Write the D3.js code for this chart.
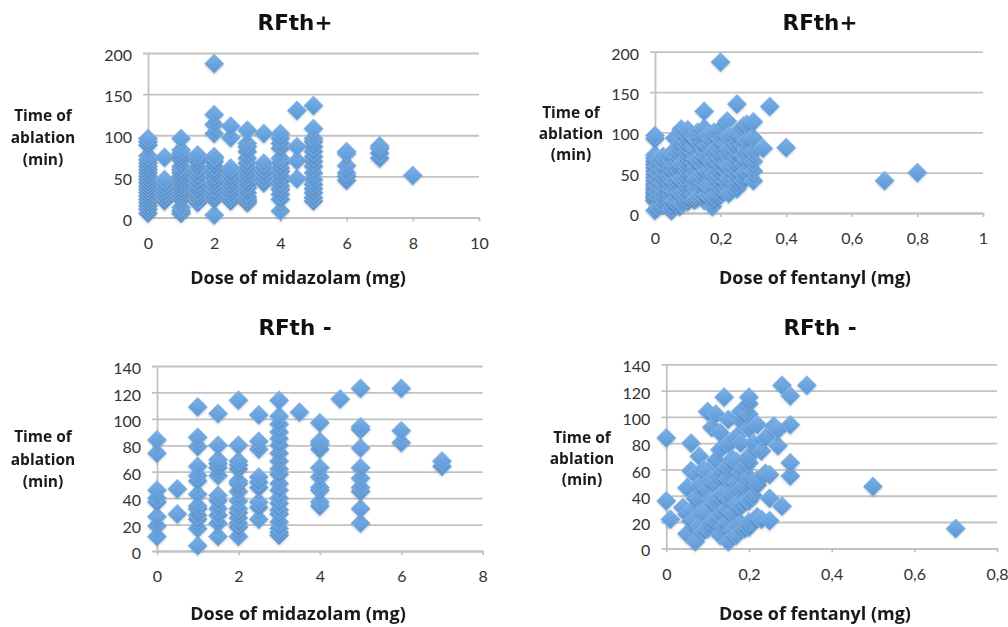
<!DOCTYPE html>
<html>
<head>
<meta charset="utf-8">
<script src="https://cdn.jsdelivr.net/npm/d3@7"></script>
<style>
	html, body { margin: 0; padding: 0; background: #fff; }
	svg { display: block; }
	.title { font-family: "DejaVu Sans", sans-serif; font-weight: bold; font-size: 21.5px; fill: #111; text-anchor: middle; }
	.label { font-family: "Open Sans", sans-serif; font-weight: bold; font-size: 15.5px; fill: #1a1a1a; text-anchor: middle; }
	.xlab { font-size: 18px; }
	.tick text { font-family: Lato, sans-serif; font-size: 16px; fill: #333; }
</style>
</head>
<body>
<script>
// midazolam, RFth+ : one list of times for every dose
var midPlusDoses = [0, 0.5, 1, 1.5, 2, 2.5, 3, 3.5, 4, 4.5, 5, 6, 7, 8];
var midPlusTimes = [
	[5, 10, 14, 18, 22, 26, 30, 34, 38, 42, 46, 50, 54, 58, 62, 66, 70, 75, 88, 92, 96],
	[20, 25, 30, 35, 40, 46, 73],
	[5, 8, 12, 22, 26, 30, 34, 38, 42, 46, 50, 54, 58, 62, 70, 74, 78, 82, 96],
	[18, 22, 28, 32, 38, 42, 48, 55, 60, 68, 72, 76],
	[3, 22, 26, 30, 36, 42, 48, 52, 58, 62, 68, 72, 74, 102, 113, 125, 187],
	[20, 24, 28, 34, 38, 44, 48, 54, 60, 97, 111],
	[18, 20, 22, 25, 30, 36, 40, 46, 50, 56, 60, 66, 72, 80, 86, 90, 106],
	[42, 48, 54, 60, 66, 102],
	[8, 22, 28, 34, 38, 44, 50, 56, 60, 66, 72, 84, 90, 96, 102],
	[47, 69, 86, 130],
	[20, 24, 30, 35, 40, 46, 54, 62, 68, 74, 80, 86, 92, 96, 108, 136],
	[45, 50, 54, 63, 78, 80],
	[72, 78, 84, 87],
	[51]
];

// fentanyl, RFth+
var fenPlusDoses = [0, 0.01, 0.025, 0.05, 0.06, 0.075, 0.08, 0.1, 0.12, 0.125, 0.13, 0.15, 0.16, 0.175, 0.18, 0.2, 0.22, 0.225, 0.25, 0.27, 0.28, 0.3, 0.33, 0.35, 0.4, 0.7, 0.8];
var fenPlusTimes = [
	[3, 15, 18, 20, 22, 25, 28, 30, 33, 36, 40, 44, 48, 52, 56, 60, 64, 68, 72, 92, 96],
	[8, 20, 26, 34, 42, 50, 58, 66],
	[10, 18, 24, 30, 38, 46, 54, 62, 70],
	[3, 6, 12, 18, 24, 30, 36, 42, 48, 56, 62, 66, 74],
	[16, 28, 40, 52, 60, 72, 93],
	[8, 14, 20, 26, 32, 38, 44, 52, 58, 64, 70, 76, 82],
	[12, 24, 42, 60, 88, 104],
	[14, 18, 22, 28, 34, 40, 46, 52, 58, 64, 70, 76, 82, 88, 96, 103],
	[16, 24, 36, 48, 62, 74, 84, 94],
	[18, 30, 42, 56, 68, 80, 92],
	[20, 44, 66, 90, 100],
	[16, 20, 26, 32, 38, 44, 50, 58, 66, 72, 80, 88, 94, 98, 105, 126],
	[22, 34, 52, 70, 84, 96],
	[8, 18, 24, 30, 42, 52, 62, 74, 86, 92],
	[20, 36, 48, 68, 78, 100],
	[22, 26, 32, 40, 46, 54, 60, 68, 76, 84, 92, 104, 187],
	[30, 38, 52, 62, 72, 86, 114],
	[24, 44, 58, 80, 96],
	[30, 36, 42, 50, 56, 64, 70, 78, 86, 95, 100, 135],
	[40, 48, 60, 72, 84, 95, 108],
	[52, 66, 78, 90, 110],
	[40, 52, 64, 76, 93, 113],
	[80],
	[132],
	[81],
	[40],
	[50]
];

// midazolam, RFth-
var midMinusDoses = [0, 0.5, 1, 1.5, 2, 2.5, 3, 3.5, 4, 4.5, 5, 6, 7];
var midMinusTimes = [
	[11, 19, 26, 37, 40, 46, 74, 84],
	[28, 47],
	[4, 17, 24, 27, 32, 34, 43, 53, 57, 64, 79, 86, 109],
	[11, 21, 27, 32, 38, 42, 57, 63, 66, 69, 80, 104],
	[11, 18, 21, 25, 29, 32, 38, 45, 51, 53, 62, 65, 68, 80, 114],
	[24, 33, 37, 48, 52, 56, 77, 83, 103],
	[12, 14, 17, 22, 28, 31, 36, 40, 46, 51, 58, 62, 68, 74, 80, 85, 90, 96, 102, 114],
	[105],
	[34, 37, 46, 48, 56, 63, 77, 81, 83, 97],
	[115],
	[21, 32, 45, 48, 55, 63, 78, 92, 94, 123],
	[82, 91, 123],
	[64, 68]
];

// fentanyl, RFth-
var fenMinusDoses = [0, 0.01, 0.04, 0.05, 0.06, 0.07, 0.08, 0.09, 0.1, 0.11, 0.12, 0.13, 0.14, 0.15, 0.16, 0.17, 0.18, 0.19, 0.2, 0.21, 0.22, 0.23, 0.24, 0.25, 0.26, 0.27, 0.28, 0.3, 0.34, 0.5, 0.7];
var fenMinusTimes = [
	[36, 84],
	[22],
	[31],
	[11, 26, 46],
	[21, 28, 59, 80],
	[5, 22, 38, 56],
	[17, 38, 48, 70],
	[13, 28, 60],
	[15, 27, 45, 58, 104],
	[20, 37, 52, 92],
	[21, 35, 50, 67, 102],
	[10, 25, 40, 56, 75, 88],
	[17, 28, 42, 60, 115],
	[5, 20, 30, 38, 53, 62, 79, 98],
	[14, 27, 42, 68],
	[10, 34, 50, 66, 85],
	[19, 32, 45, 58, 80, 97, 104],
	[15, 35, 48, 62],
	[16, 20, 36, 54, 65, 70, 91, 102, 110, 115],
	[40, 80],
	[24, 48, 52, 94],
	[22, 74],
	[57, 84],
	[21, 38, 56],
	[93],
	[78, 90],
	[32, 124],
	[55, 65, 94, 116],
	[124],
	[47],
	[15]
];

var xTicksMidPlus = [0, 2, 4, 6, 8, 10];
var xTicksMidMinus = [0, 2, 4, 6, 8];
var xTicksFenPlus = [0, 0.2, 0.4, 0.6, 0.8, 1];
var xTicksFenMinus = [0, 0.2, 0.4, 0.6, 0.8];
var yTicksPlus = [0, 50, 100, 150, 200];
var yTicksMinus = [0, 20, 40, 60, 80, 100, 120, 140];

var yLabelLines = ["Time of", "ablation", "(min)"];

var svg = d3.select("body").append("svg")
	.attr("width", 1008)
	.attr("height", 627);

var defs = svg.append("defs");

var grad = defs.append("linearGradient")
	.attr("id", "markerFill")
	.attr("x1", 0).attr("y1", 0)
	.attr("x2", 1).attr("y2", 1);
grad.append("stop").attr("offset", "0%").attr("stop-color", "#7cb0e6");
grad.append("stop").attr("offset", "100%").attr("stop-color", "#5a98d8");

defs.append("filter")
	.attr("id", "soft")
	.append("feGaussianBlur")
	.attr("stdDeviation", 0.55);

defs.append("filter")
	.attr("id", "shade")
	.attr("x", "-50%").attr("y", "-50%")
	.attr("width", "200%").attr("height", "200%")
	.append("feGaussianBlur")
	.attr("stdDeviation", 1);

var diamond = d3.symbol().type(d3.symbolSquare).size(185)();

function drawPanel(p) {
	var x = d3.scaleLinear().domain([0, p.xTicks[p.xTicks.length - 1]]).range([p.left, p.right]);
	var y = d3.scaleLinear().domain([0, p.yTicks[p.yTicks.length - 1]]).range([p.bottom, p.top]);

	var points = [];
	p.doses.forEach(function (dose, i) {
		p.times[i].forEach(function (t) {
			points.push({ dose: dose, time: t });
		});
	});

	var g = svg.append("g");
	var chart = g.append("g").attr("filter", "url(#soft)");

	// gridlines, the y ticks stick out a little to the left
	chart.append("g")
		.attr("transform", "translate(" + p.left + ",0)")
		.call(d3.axisLeft(y).tickValues(p.yTicks).tickSizeInner(-(p.right - p.left)).tickSizeOuter(0).tickFormat(""))
		.call(function (a) {
			a.select(".domain").attr("stroke", "#c2c2c2").attr("stroke-width", 1.8);
			a.selectAll("line").attr("stroke", "#c2c2c2").attr("stroke-width", 1.8).attr("x1", -5).attr("x2", p.right - p.left);
		});

	chart.append("g")
		.attr("transform", "translate(0," + p.bottom + ")")
		.call(d3.axisBottom(x).tickValues(p.xTicks).tickSize(4).tickSizeOuter(0).tickFormat(""))
		.call(function (a) {
			a.select(".domain").attr("stroke", "#c2c2c2").attr("stroke-width", 1.8);
			a.selectAll("line").attr("stroke", "#c2c2c2").attr("stroke-width", 1.8);
		});

	var marks = chart.append("g");
	points.forEach(function (d) {
		var px = x(d.dose), py = y(d.time);
		marks.append("path")
			.attr("d", diamond)
			.attr("transform", "translate(" + px + "," + (py + 1.5) + ") rotate(45)")
			.attr("fill", "#000")
			.attr("opacity", 0.17)
			.attr("filter", "url(#shade)");
		marks.append("path")
			.attr("d", diamond)
			.attr("transform", "translate(" + px + "," + py + ") rotate(45)")
			.attr("fill", "url(#markerFill)")
			.attr("stroke", "#86b6e8")
			.attr("stroke-width", 0.8);
	});

	// tick labels come from the library's axes as well
	g.append("g")
		.attr("transform", "translate(" + (p.left - 16) + ",2.5)")
		.call(d3.axisLeft(y).tickValues(p.yTicks).tickSize(0).tickPadding(0))
		.call(function (a) { a.select(".domain").remove(); });

	g.append("g")
		.attr("transform", "translate(0," + (p.bottom + 17) + ")")
		.call(d3.axisBottom(x).tickValues(p.xTicks).tickSize(0).tickPadding(3)
			.tickFormat(function (d) { return String(d).replace(".", ","); }))
		.call(function (a) { a.select(".domain").remove(); });

	g.append("text")
		.attr("class", "title")
		.attr("x", p.titleX).attr("y", p.titleY)
		.text(p.title);

	g.selectAll("text.ylab")
		.data(yLabelLines)
		.enter()
		.append("text")
		.attr("class", "label ylab")
		.attr("x", p.yLabelX)
		.attr("y", function (d, i) { return p.yLabelY + i * p.yLabelStep; })
		.text(function (d) { return d; });

	g.append("text")
		.attr("class", "label xlab")
		.attr("x", p.xLabelX).attr("y", p.xLabelY)
		.text(p.xLabel);
}

drawPanel({
	doses: midPlusDoses, times: midPlusTimes, xTicks: xTicksMidPlus, yTicks: yTicksPlus,
	left: 148, right: 479, top: 53, bottom: 217.5,
	title: "RFth+", titleX: 295, titleY: 30,
	xLabel: "Dose of midazolam (mg)", xLabelX: 298, xLabelY: 284,
	yLabelX: 43, yLabelY: 121, yLabelStep: 22
});

drawPanel({
	doses: fenPlusDoses, times: fenPlusTimes, xTicks: xTicksFenPlus, yTicks: yTicksPlus,
	left: 655, right: 983, top: 51.7, bottom: 213,
	title: "RFth+", titleX: 820, titleY: 30,
	xLabel: "Dose of fentanyl (mg)", xLabelX: 815, xLabelY: 284,
	yLabelX: 571, yLabelY: 118, yLabelStep: 21
});

drawPanel({
	doses: midMinusDoses, times: midMinusTimes, xTicks: xTicksMidMinus, yTicks: yTicksMinus,
	left: 157, right: 482.7, top: 366, bottom: 551,
	title: "RFth -", titleX: 295, titleY: 335,
	xLabel: "Dose of midazolam (mg)", xLabelX: 298, xLabelY: 620,
	yLabelX: 43, yLabelY: 442, yLabelStep: 22.5
});

drawPanel({
	doses: fenMinusDoses, times: fenMinusTimes, xTicks: xTicksFenMinus, yTicks: yTicksMinus,
	left: 666.3, right: 997, top: 364.3, bottom: 548.3,
	title: "RFth -", titleX: 820, titleY: 335,
	xLabel: "Dose of fentanyl (mg)", xLabelX: 815, xLabelY: 620,
	yLabelX: 582, yLabelY: 443, yLabelStep: 21
});
</script>
</body>
</html>
